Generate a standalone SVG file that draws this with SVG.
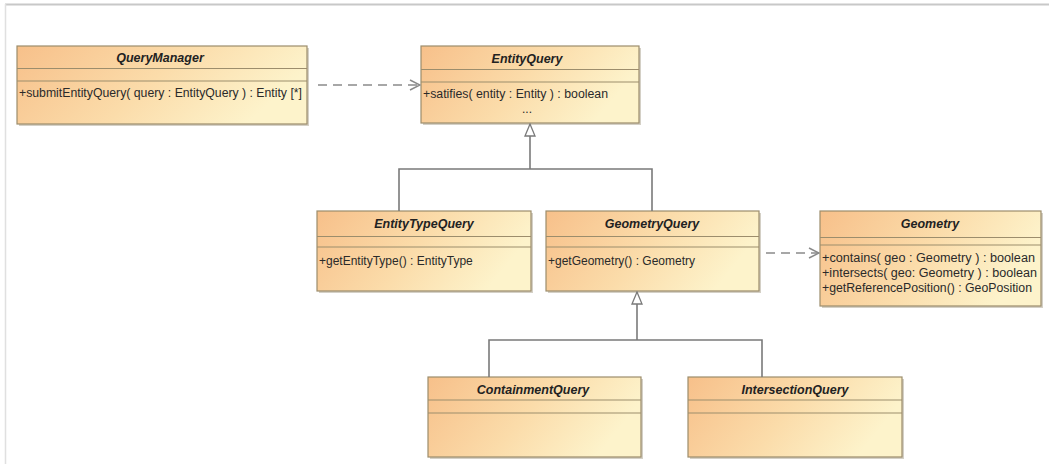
<svg xmlns="http://www.w3.org/2000/svg" width="1049" height="464" viewBox="0 0 1049 464">
<defs>
<linearGradient id="fill" x1="0" y1="0" x2="1" y2="0.3">
<stop offset="0" stop-color="#f7c08a"/>
<stop offset="0.55" stop-color="#fbdcaa"/>
<stop offset="1" stop-color="#fdf3cb"/>
</linearGradient>
<marker id="open" viewBox="0 0 12 12" refX="11" refY="6" markerWidth="12" markerHeight="12" markerUnits="userSpaceOnUse" orient="auto">
<path d="M1,1 L11,6 L1,11" fill="none" stroke="#8a8a8a" stroke-width="1.5"/>
</marker>
<marker id="tri" viewBox="0 0 14 12" refX="13" refY="6" markerWidth="14" markerHeight="12" markerUnits="userSpaceOnUse" orient="auto">
<path d="M1,1 L13,6 L1,11 Z" fill="#ffffff" stroke="#7a7a7a" stroke-width="1.3"/>
</marker>
</defs>
<style>
.box{fill:url(#fill);stroke:#9c8d6c;stroke-width:1.2}
.sh{fill:#b8b0a0;opacity:0.6}
.sep{stroke:#9c8d6c;stroke-width:1.2}
.name{font-family:"Liberation Sans",Arial,sans-serif;font-size:12.5px;font-weight:bold;font-style:italic;fill:#222;text-anchor:middle}
.op{font-family:"Liberation Sans",Arial,sans-serif;font-size:12px;fill:#2a2a2a}
.gen{fill:none;stroke:#7a7a7a;stroke-width:1.6}
.dep{fill:none;stroke:#8a8a8a;stroke-width:1.5;stroke-dasharray:9,6}
</style>
<rect x="0" y="0" width="1049" height="464" fill="#ffffff"/>
<line x1="5" y1="4.5" x2="1049" y2="4.5" stroke="#c8c8c8" stroke-width="2"/>
<line x1="5.5" y1="4" x2="5.5" y2="464" stroke="#e0e0e0" stroke-width="1.5"/>

<g id="QueryManager">
<rect class="sh" x="19" y="48" width="290" height="78"/>
<rect class="box" x="17" y="46" width="290" height="78"/>
<line class="sep" x1="17" y1="68.5" x2="307" y2="68.5"/>
<line class="sep" x1="17" y1="81" x2="307" y2="81"/>
<text class="name" x="160" y="62">QueryManager</text>
<text class="op" x="19" y="97" textLength="283" lengthAdjust="spacingAndGlyphs">+submitEntityQuery( query : EntityQuery ) : Entity [*]</text>
</g>

<g id="EntityQuery">
<rect class="sh" x="423" y="48" width="218" height="77"/>
<rect class="box" x="421" y="46" width="218" height="77"/>
<line class="sep" x1="421" y1="69.5" x2="639" y2="69.5"/>
<line class="sep" x1="421" y1="82" x2="639" y2="82"/>
<text class="name" x="527" y="63">EntityQuery</text>
<text class="op" x="423" y="98" textLength="185" lengthAdjust="spacingAndGlyphs">+satifies( entity : Entity ) : boolean</text>
<text class="op" x="527" y="113" text-anchor="middle" font-size="8">...</text>
</g>

<g id="EntityTypeQuery">
<rect class="sh" x="319" y="213" width="214" height="80"/>
<rect class="box" x="317" y="211" width="214" height="80"/>
<line class="sep" x1="317" y1="236.5" x2="531" y2="236.5"/>
<line class="sep" x1="317" y1="247" x2="531" y2="247"/>
<text class="name" x="424" y="228">EntityTypeQuery</text>
<text class="op" x="319" y="265">+getEntityType() : EntityType</text>
</g>

<g id="GeometryQuery">
<rect class="sh" x="548" y="213" width="213" height="80"/>
<rect class="box" x="546" y="211" width="213" height="80"/>
<line class="sep" x1="546" y1="236.5" x2="759" y2="236.5"/>
<line class="sep" x1="546" y1="247" x2="759" y2="247"/>
<text class="name" x="652" y="228">GeometryQuery</text>
<text class="op" x="548" y="265">+getGeometry() : Geometry</text>
</g>

<g id="Geometry">
<rect class="sh" x="822" y="213" width="221" height="95"/>
<rect class="box" x="820" y="211" width="221" height="95"/>
<line class="sep" x1="820" y1="237.5" x2="1041" y2="237.5"/>
<line class="sep" x1="820" y1="245" x2="1041" y2="245"/>
<text class="name" x="930" y="228">Geometry</text>
<text class="op" x="822" y="262" textLength="213" lengthAdjust="spacingAndGlyphs">+contains( geo : Geometry ) : boolean</text>
<text class="op" x="822" y="277" textLength="215" lengthAdjust="spacingAndGlyphs">+intersects( geo: Geometry ) : boolean</text>
<text class="op" x="822" y="292" textLength="210" lengthAdjust="spacingAndGlyphs">+getReferencePosition() : GeoPosition</text>
</g>

<g id="ContainmentQuery">
<rect class="sh" x="430" y="379" width="213" height="80"/>
<rect class="box" x="428" y="377" width="213" height="80"/>
<line class="sep" x1="428" y1="400" x2="641" y2="400"/>
<line class="sep" x1="428" y1="413" x2="641" y2="413"/>
<text class="name" x="533" y="394">ContainmentQuery</text>
</g>

<g id="IntersectionQuery">
<rect class="sh" x="690" y="379" width="214" height="80"/>
<rect class="box" x="688" y="377" width="214" height="80"/>
<line class="sep" x1="688" y1="400" x2="902" y2="400"/>
<line class="sep" x1="688" y1="413" x2="902" y2="413"/>
<text class="name" x="795" y="394">IntersectionQuery</text>
</g>

<g id="connectors">
<path class="dep" d="M318,85 L420,85" marker-end="url(#open)"/>
<path class="dep" d="M766,253 L819,253" marker-end="url(#open)"/>
<path class="gen" d="M399,211 L399,169 L652,169 L652,211"/>
<path class="gen" d="M530,169 L530,124" marker-end="url(#tri)"/>
<path class="gen" d="M489,377 L489,340 L762,340 L762,377"/>
<path class="gen" d="M637,340 L637,292" marker-end="url(#tri)"/>
</g>
</svg>
